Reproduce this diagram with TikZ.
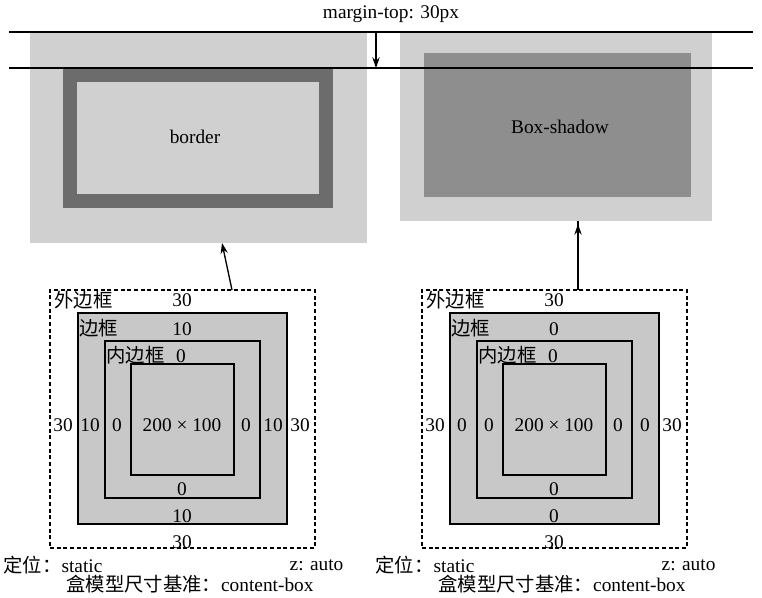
\documentclass[tikz,border=0pt]{standalone}
\usepackage{fontspec}
\setmainfont{Liberation Serif}
\newfontfamily\cjk{Noto Sans CJK SC}
\usetikzlibrary{arrows.meta,fit,positioning}

\definecolor{paleGray}{HTML}{D0D0D0}
\definecolor{borderDark}{HTML}{6C6C6C}
\definecolor{shadowGray}{HTML}{8E8E8E}
\definecolor{boxGray}{HTML}{C8C8C8}

\begin{document}
\begin{tikzpicture}[x=0.75pt,y=-0.75pt,
  every node/.style={font=\fontsize{14.5}{17}\selectfont,inner sep=1pt},
  area/.style={inner sep=0pt,outer sep=0pt},
  boxline/.style={draw=black,line width=1.1pt,fill=boxGray},
  dashbox/.style={draw=black,line width=0.9pt,dash pattern=on 3pt off 2pt},
  guide/.style={line width=0.9pt},
  pointer/.style={line width=1pt,-{Stealth[length=8pt,width=5.5pt]}}]
  \useasboundingbox (0,0) rectangle (762,598);
  % top: margin-top guides
  \node (mtop) at (391,14) {margin-top: 30px};
  \node[area,fill=paleGray,fit={(30,32) (367,243)}] (marginL) {};
  \node[area,fill=paleGray,draw=borderDark,line width=10pt,fit={(70,75) (326,201)}] (borderL) {};
  \node (borderTxt) at (195,137) {border};
  \node[area,fill=paleGray,fit={(400,32) (712,221)}] (marginR) {};
  \node[area,fill=shadowGray,fit={(424,53) (691,197)}] (shadowR) {};
  \node (shadowTxt) at (560,127) {Box-shadow};
  \coordinate (lineA1) at (9,32);  \coordinate (lineA2) at (753,32);
  \coordinate (lineB1) at (9,68);  \coordinate (lineB2) at (753,68);
  \draw[guide] (lineA1) -- (lineA2);
  \draw[guide] (lineB1) -- (lineB2);
  \draw[pointer] (lineA1 -| 376,0) -- (lineB1 -| 376,0);
  % bottom: the two box models
  \foreach \dx/\b/\p in {0/10/L,372/0/R}{
    \begin{scope}[xshift=\dx*0.75pt]
      \node[area,dashbox,fit={(50,290) (315,548)}] (dash\p) {};
      \node[area,boxline,fit={(78,313) (287,524)}] (bdr\p) {};
      \node[area,boxline,fit={(105,341) (260,498)}] (pad\p) {};
      \node[area,boxline,fit={(131,364) (234,475)}] (cnt\p) {};
      \node[anchor=west] (tagM\p) at (53,300) {\cjk 外边框};
      \node[anchor=west] (tagB\p) at (78,328) {\cjk 边框};
      \node[anchor=west] (tagP\p) at (105,355) {\cjk 内边框};
      \node (mT\p) at (182,300) {30};
      \node (bT\p) at (182,329) {\b};
      \node (pT\p) at (181,356) {0};
      \foreach \x/\t/\s in {63/30/mA,90/\b/bA,117/0/pA,246/0/pB,273/\b/bB,300/30/mB}{
        \node (\s\p) at (\x,425) {\t};
      }
      \node (size\p) at (182,425) {200 × 100};
      \node (pD\p) at (182,489) {0};
      \node (bD\p) at (182,516) {\b};
      \node (mD\p) at (182,542) {30};
      \node[anchor=west] (pos\p) at (2,565) {{\cjk 定位：}static};
      \node[anchor=east] (zidx\p) at (345,565) {z: auto};
      \node (sizing\p) at (190,584) {{\cjk 盒模型尺寸基准：}content-box};
    \end{scope}
  }
  \coordinate (tailL) at (232,290);
  \coordinate (tipL) at (222,243);
  \draw[pointer] (tailL) -- (tipL);
  \draw[pointer] (dashR.north -| 578,0) -- (marginR.south -| 578,0) ++(0,3);
\end{tikzpicture}
\end{document}
